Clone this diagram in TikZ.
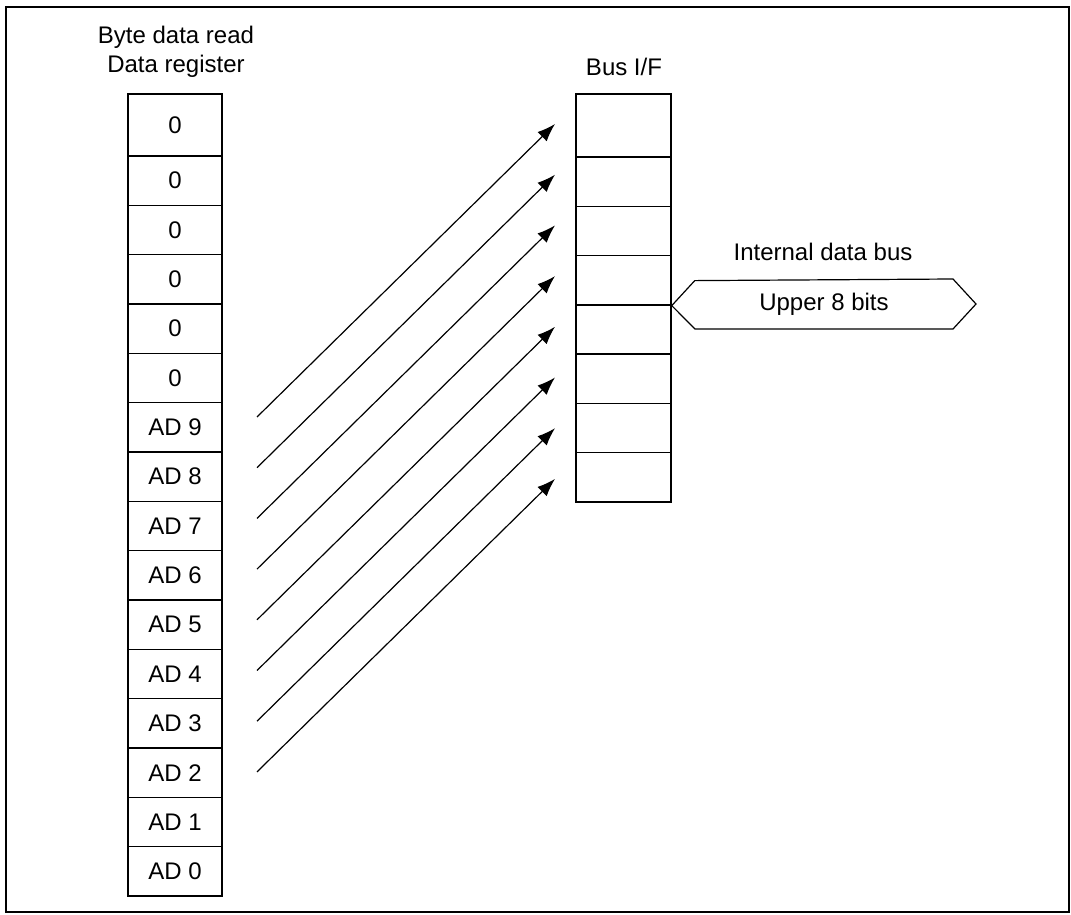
\documentclass[tikz,border=0pt]{standalone}
\usepackage{fontspec}
\setmainfont{Liberation Sans}
\usetikzlibrary{arrows.meta,calc}

\tikzset{
  txt/.style={font=\fontsize{24}{29}\selectfont, inner sep=0pt},
  cell/.style={txt, draw, line width=1.5pt, minimum width=94pt},
  bit/.style={line width=1.2pt, -{Latex[length=18pt,width=13pt]}}
}

\begin{document}
\begin{tikzpicture}[x=1pt, y=-1pt]
    % Page and frame
    \useasboundingbox (0,0) rectangle (1071,915);
    \draw[line width=2.2pt] (6,7) rectangle (1069,912);

    % Data register (left)
    \node[txt, align=center] (regtitle) at (176,52) {Byte data read\\Data register};
    \node[cell, minimum height=62pt] (reg1) at (175,125) {0};
    \foreach \i/\lbl in {2/0, 3/0, 4/0, 5/0, 6/0, 7/AD 9, 8/AD 8, 9/AD 7, 10/AD 6, 11/AD 5, 12/AD 4, 13/AD 3, 14/AD 2, 15/AD 1, 16/AD 0}
        \node[cell, minimum height=49.33pt] (reg\i) at (175, {156+(\i-1.5)*49.33}) {\lbl};

    % Bus I/F (middle)
    \node[txt] (bustitle) at (624,67) {Bus I/F};
    \node[cell, minimum width=95pt, minimum height=63pt] (bus1) at (623.5,125.5) {};
    \foreach \i in {2,...,8}
        \node[cell, minimum width=95pt, minimum height=49.29pt] (bus\i) at (623.5, {157+(\i-1.5)*49.29}) {};

    % Bits AD9..AD2 moved into the bus
    \foreach \k in {0,...,7} {
        \coordinate (src\k) at (257, {417+50.7*\k});
        \coordinate (tip\k) at (555, {124+50.7*\k});
        \draw[bit] (src\k) -- (tip\k);
    }

    % Internal data bus
    \node[txt] (bustext) at (823,252) {Internal data bus};
    \node[txt] (upper) at (824,304) {Upper 8 bits};
    \draw[line width=1.2pt] (bus4.south east) -- ++(23,-25) -- (953,279) -- (976,304)
        -- (953,329) -- (695,329) -- cycle;
\end{tikzpicture}
\end{document}
